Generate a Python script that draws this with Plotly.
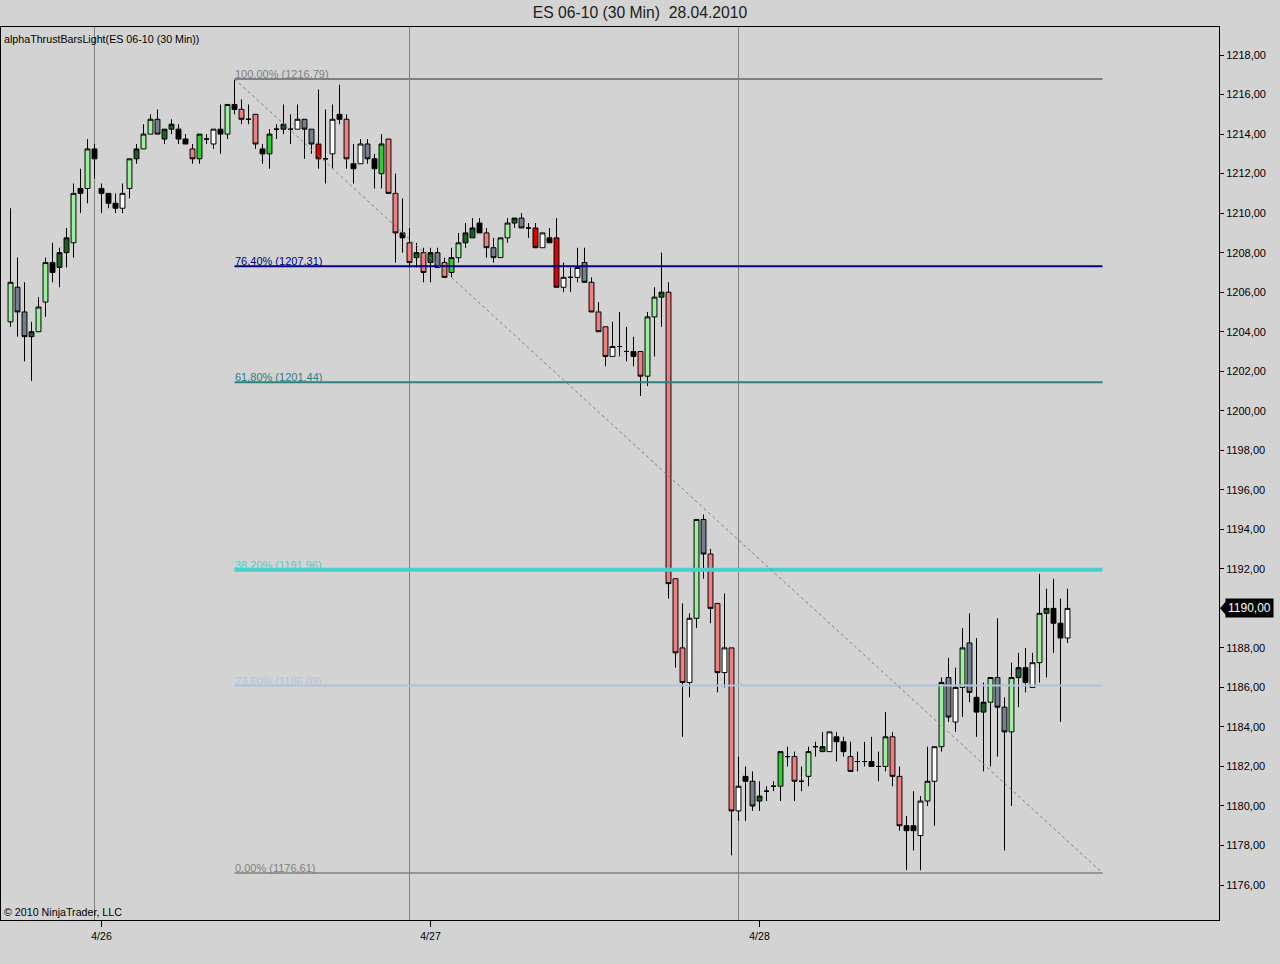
import plotly.graph_objects as go

# ---------------- data (ES 06-10, 30 min bars, 26.04 - 28.04.2010) ----------------
opens = [
    1204.50, 1206.25, 1205.00, 1203.75, 1204.00, 1205.50, 1207.50, 1207.25, 1208.00, 1208.50,
    1211.25, 1211.25, 1213.25, 1211.25, 1211.00, 1210.50, 1210.25, 1211.25, 1212.75, 1213.25,
    1214.00, 1214.75, 1213.75, 1214.25, 1214.25, 1213.75, 1213.25, 1212.75, 1213.75, 1213.50,
    1214.25, 1214.00, 1215.50, 1215.25, 1214.75, 1215.00, 1213.25, 1213.00, 1214.25, 1214.25,
    1214.25, 1214.25, 1214.75, 1214.25, 1213.50, 1212.75, 1213.00, 1215.00, 1214.75, 1212.50,
    1212.50, 1213.50, 1212.75, 1212.00, 1213.75, 1211.00, 1209.00, 1208.50, 1207.75, 1208.00,
    1207.50, 1208.00, 1207.50, 1207.00, 1207.75, 1208.50, 1208.75, 1209.50, 1209.00, 1208.25,
    1207.75, 1208.75, 1209.50, 1209.75, 1209.25, 1209.25, 1208.25, 1208.75, 1208.75, 1206.25,
    1206.75, 1206.75, 1207.50, 1206.50, 1205.00, 1204.25, 1202.75, 1203.25, 1203.00, 1203.00,
    1203.00, 1201.75, 1204.75, 1205.75, 1206.00, 1191.50, 1188.00, 1186.25, 1189.50, 1194.50,
    1192.75, 1190.25, 1186.75, 1188.00, 1179.75, 1181.50, 1181.25, 1180.25, 1180.75, 1181.00,
    1181.00, 1182.50, 1182.50, 1181.25, 1181.50, 1183.00, 1182.75, 1182.75, 1183.50, 1183.25,
    1182.50, 1182.25, 1182.25, 1182.25, 1182.00, 1182.00, 1183.50, 1181.50, 1179.00, 1179.00,
    1178.50, 1180.25, 1181.25, 1183.00, 1186.50, 1184.25, 1186.00, 1188.25, 1185.50, 1184.75,
    1185.25, 1186.50, 1185.00, 1183.75, 1186.50, 1187.00, 1186.00, 1187.25, 1189.75, 1190.00,
    1189.25, 1188.50,
]
highs = [
    1210.25, 1207.75, 1206.50, 1204.50, 1205.75, 1207.75, 1208.50, 1208.25, 1209.25, 1211.50,
    1212.25, 1213.75, 1213.50, 1211.50, 1211.00, 1211.00, 1211.50, 1212.75, 1213.50, 1214.50,
    1215.00, 1215.25, 1214.25, 1214.75, 1214.50, 1214.00, 1213.50, 1214.00, 1214.00, 1214.25,
    1215.50, 1215.50, 1216.75, 1215.75, 1215.50, 1215.00, 1213.50, 1214.25, 1214.50, 1215.50,
    1215.00, 1215.50, 1214.75, 1214.25, 1216.25, 1215.25, 1215.50, 1216.50, 1215.00, 1213.50,
    1213.75, 1213.75, 1213.00, 1214.00, 1213.75, 1212.00, 1210.75, 1209.25, 1208.50, 1208.25,
    1208.25, 1208.25, 1207.75, 1208.25, 1209.00, 1209.50, 1209.75, 1209.75, 1209.25, 1208.75,
    1208.75, 1209.75, 1209.75, 1210.00, 1209.50, 1209.50, 1209.00, 1209.25, 1209.75, 1207.50,
    1207.25, 1208.25, 1208.25, 1206.75, 1205.50, 1204.25, 1204.50, 1205.00, 1204.25, 1203.75,
    1203.00, 1205.00, 1206.25, 1208.00, 1206.50, 1191.50, 1190.25, 1189.75, 1194.50, 1194.75,
    1193.00, 1190.25, 1190.75, 1188.00, 1182.50, 1182.00, 1181.75, 1181.25, 1181.00, 1181.25,
    1182.75, 1183.00, 1182.75, 1182.00, 1183.00, 1183.25, 1183.75, 1183.75, 1183.75, 1183.50,
    1183.25, 1182.75, 1183.25, 1183.50, 1182.75, 1184.75, 1183.75, 1182.00, 1179.50, 1180.75,
    1180.50, 1183.00, 1183.00, 1186.50, 1187.50, 1187.00, 1189.00, 1189.75, 1188.50, 1186.25,
    1186.50, 1189.50, 1185.50, 1187.25, 1187.75, 1188.00, 1187.75, 1191.75, 1191.00, 1191.50,
    1190.50, 1191.00,
]
lows = [
    1204.25, 1203.75, 1202.50, 1201.50, 1204.00, 1204.75, 1206.50, 1206.25, 1207.25, 1207.75,
    1210.00, 1210.50, 1211.75, 1210.00, 1210.25, 1210.00, 1210.00, 1210.75, 1212.50, 1213.25,
    1214.00, 1214.00, 1213.50, 1214.00, 1213.50, 1213.50, 1212.50, 1212.50, 1213.50, 1213.25,
    1213.00, 1213.75, 1215.00, 1214.50, 1214.50, 1213.25, 1212.50, 1212.25, 1213.75, 1214.00,
    1213.50, 1214.25, 1212.75, 1213.00, 1212.25, 1211.50, 1212.25, 1214.50, 1212.25, 1211.50,
    1212.50, 1212.50, 1211.25, 1211.25, 1211.00, 1207.50, 1208.00, 1207.25, 1207.25, 1206.50,
    1206.50, 1207.25, 1206.75, 1206.75, 1207.50, 1208.25, 1208.75, 1209.00, 1207.75, 1207.50,
    1207.75, 1208.50, 1209.25, 1209.25, 1208.75, 1208.25, 1208.25, 1208.50, 1206.25, 1206.00,
    1206.00, 1206.50, 1206.50, 1205.00, 1204.00, 1202.25, 1202.75, 1202.75, 1202.50, 1202.25,
    1200.75, 1201.25, 1202.75, 1204.25, 1190.50, 1187.00, 1183.50, 1185.50, 1189.00, 1191.50,
    1189.25, 1185.75, 1186.00, 1177.50, 1179.25, 1179.25, 1179.75, 1179.75, 1180.25, 1180.75,
    1180.25, 1182.00, 1180.25, 1180.75, 1181.00, 1182.50, 1182.75, 1182.75, 1182.25, 1182.50,
    1181.75, 1181.75, 1182.00, 1182.00, 1181.25, 1181.75, 1181.00, 1178.75, 1176.75, 1177.75,
    1176.75, 1180.00, 1179.00, 1182.75, 1184.25, 1183.75, 1184.50, 1185.25, 1183.50, 1181.75,
    1182.00, 1182.50, 1177.75, 1180.00, 1185.00, 1185.75, 1186.00, 1186.25, 1186.50, 1187.75,
    1184.25, 1188.25,
]
closes = [
    1206.50, 1205.00, 1203.75, 1204.00, 1205.25, 1207.50, 1207.00, 1208.00, 1208.75, 1211.00,
    1211.00, 1213.25, 1212.75, 1211.00, 1210.50, 1210.25, 1211.00, 1212.75, 1213.25, 1214.00,
    1214.75, 1214.00, 1214.25, 1214.50, 1213.75, 1213.50, 1212.75, 1214.00, 1213.75, 1214.25,
    1214.00, 1215.50, 1215.25, 1214.75, 1214.75, 1213.50, 1213.00, 1214.00, 1214.25, 1214.50,
    1214.25, 1214.75, 1214.25, 1213.50, 1212.75, 1212.75, 1214.75, 1214.75, 1212.75, 1212.25,
    1213.50, 1212.75, 1212.25, 1213.50, 1211.00, 1209.00, 1208.75, 1207.50, 1208.00, 1207.00,
    1208.00, 1207.25, 1206.75, 1207.75, 1208.50, 1209.00, 1209.25, 1209.00, 1208.25, 1207.75,
    1208.75, 1209.50, 1209.75, 1209.25, 1209.25, 1208.25, 1209.00, 1208.50, 1206.25, 1206.75,
    1206.75, 1207.25, 1206.50, 1205.00, 1204.00, 1202.75, 1203.25, 1203.25, 1203.00, 1202.75,
    1201.75, 1204.75, 1205.75, 1206.00, 1191.25, 1187.75, 1186.25, 1189.50, 1194.50, 1192.75,
    1190.00, 1186.75, 1188.00, 1179.75, 1181.00, 1181.25, 1180.00, 1180.50, 1180.75, 1181.00,
    1182.75, 1182.50, 1181.25, 1181.25, 1182.75, 1183.00, 1183.00, 1183.75, 1183.25, 1182.75,
    1181.75, 1182.25, 1182.25, 1182.00, 1182.00, 1183.50, 1181.50, 1179.00, 1178.75, 1178.75,
    1180.25, 1181.25, 1183.00, 1186.25, 1184.50, 1186.00, 1188.00, 1185.75, 1184.75, 1185.25,
    1186.50, 1185.00, 1183.75, 1186.50, 1187.00, 1186.25, 1187.25, 1189.75, 1190.00, 1189.25,
    1188.50, 1190.00,
]
# alphaThrust bar state per bar
bar_states = [
    "LG", "GR", "GR", "DG", "LG", "LG", "BK", "DG", "DG", "LG",
    "BK", "LG", "BK", "BK", "BK", "BK", "WH", "LG", "DG", "LG",
    "LG", "GR", "DG", "DG", "BK", "BK", "SA", "BG", "DJ", "WH",
    "BK", "LG", "BK", "SA", "DJ", "SA", "BK", "BG", "DJ", "DG",
    "DJ", "WH", "GR", "GR", "RD", "DJ", "WH", "BK", "SA", "BK",
    "WH", "GR", "BK", "BG", "SA", "SA", "BK", "SA", "DG", "SA",
    "DG", "GR", "SA", "BG", "LG", "DG", "DG", "BK", "SA", "GR",
    "LG", "LG", "DG", "GR", "DJ", "RD", "WH", "BK", "RD", "WH",
    "DJ", "WH", "GR", "SA", "SA", "SA", "WH", "DJ", "DJ", "BK",
    "SA", "LG", "LG", "DG", "SA", "SA", "SA", "WH", "LG", "GR",
    "SA", "SA", "WH", "SA", "WH", "BK", "GR", "DG", "DJ", "DJ",
    "BG", "DJ", "SA", "DJ", "LG", "DJ", "DG", "WH", "BK", "BK",
    "SA", "DJ", "DJ", "BK", "DJ", "LG", "SA", "SA", "BK", "BK",
    "WH", "LG", "WH", "LG", "GR", "WH", "LG", "GR", "BK", "DG",
    "LG", "GR", "GR", "LG", "DG", "BK", "WH", "LG", "DG", "BK",
    "BK", "WH",
]
state_colors = {
    "LG": "#9cef9c", "DG": "#1f5f1f", "GR": "#708090", "BK": "#000000",
    "WH": "#ffffff", "SA": "#f08080", "BG": "#32cd32", "RD": "#e00000",
    "DJ": "#000000",
}

date_tick_index = [13, 60, 107]
date_tick_labels = ["4/26", "4/27", "4/28"]
session_break_index = [12, 57, 104]

fib_start_index = 32
fib_end_index = 156
fib_high = 1216.79
fib_low = 1176.61
fib_ratios = [1.0, 0.764, 0.618, 0.382, 0.236, 0.0]
fib_colors = ["#808080", "#000080", "#2e8080", "#48d1cc", "#b0c4de", "#808080"]
fib_widths = [2, 2, 2, 4, 2, 1.5]

y_ticks = list(range(1176, 1220, 2))

FONT = "Liberation Sans, Arial, sans-serif"

# ---------------- figure ----------------
fig = go.Figure()

for state, col in state_colors.items():
    idx = [i for i, s in enumerate(bar_states) if s == state]
    if not idx:
        continue
    fig.add_trace(go.Candlestick(
        x=idx,
        open=[opens[i] for i in idx],
        high=[highs[i] for i in idx],
        low=[lows[i] for i in idx],
        close=[closes[i] for i in idx],
        increasing=dict(line=dict(color="#000000", width=1), fillcolor=col),
        decreasing=dict(line=dict(color="#000000", width=1), fillcolor=col),
        whiskerwidth=0,
        hoverinfo="skip",
        showlegend=False,
    ))

shapes = []
for b in session_break_index:
    shapes.append(dict(type="line", xref="x", yref="paper", x0=b, x1=b, y0=0, y1=1,
                       line=dict(color="#808080", width=1), layer="below"))

annotations = []
rng = fib_high - fib_low
for r, c, w in zip(fib_ratios, fib_colors, fib_widths):
    lvl = fib_low + r * rng
    shapes.append(dict(type="line", xref="x", yref="y", x0=fib_start_index, x1=fib_end_index,
                       y0=lvl, y1=lvl, line=dict(color=c, width=w), layer="above"))
    label = ("%.2f%% (%.2f)" % (r * 100, lvl)).replace(".", ",")
    annotations.append(dict(x=fib_start_index, y=lvl, xref="x", yref="y", text=label,
                            showarrow=False, xanchor="left", yanchor="bottom",
                            xshift=-2, yshift=-3, font=dict(family=FONT, size=11, color=c)))

shapes.append(dict(type="line", xref="x", yref="y", x0=fib_start_index, x1=fib_end_index,
                   y0=fib_high, y1=fib_low, line=dict(color="#808080", width=1, dash="dot"),
                   layer="above"))

# last price marker
last = closes[-1]
px_w = 1218.0
py = (1219.42 - 1174.23) / 893.0
shapes.append(dict(type="path", xref="paper", yref="y",
                   path="M %f,%f L %f,%f L %f,%f Z" % (1 + 1 / px_w, last,
                                                       1 + 8 / px_w, last + 8 * py,
                                                       1 + 8 / px_w, last - 8 * py),
                   fillcolor="#000000", line=dict(width=0), layer="above"))
annotations.append(dict(x=1, y=last, xref="paper", yref="y", text=("%.2f" % last).replace(".", ","),
                        showarrow=False, xanchor="left", yanchor="middle", xshift=6,
                        bgcolor="#000000", borderpad=2,
                        font=dict(family=FONT, size=12, color="#ffffff")))

annotations.append(dict(x=0, y=1, xref="paper", yref="paper",
                        text="alphaThrustBarsLight(ES 06-10 (30 Min))", showarrow=False,
                        xanchor="left", yanchor="top", xshift=1, yshift=-4,
                        font=dict(family=FONT, size=10.7, color="#000000")))
annotations.append(dict(x=0, y=0, xref="paper", yref="paper",
                        text="© 2010 NinjaTrader, LLC", showarrow=False,
                        xanchor="left", yanchor="bottom", xshift=1, yshift=0,
                        font=dict(family=FONT, size=10.7, color="#000000")))

# the axis label under the last-price marker is hidden, as in the original
y_tick_shown = [v for v in y_ticks if abs(v - last) > 0.5]

fig.update_layout(
    width=1280, height=964,
    margin=dict(l=1, r=61, t=27, b=44),
    paper_bgcolor="#d3d3d3", plot_bgcolor="#d3d3d3",
    separators=",.",
    boxgap=0.3, boxgroupgap=0.0,
    title=dict(text="ES 06-10 (30 Min)\u00a0 28.04.2010", x=0.5, xref="container",
               y=1 - 12.5 / 964, yref="container", yanchor="middle", xanchor="center",
               font=dict(family=FONT, size=15.7, color="#202020")),
    shapes=shapes, annotations=annotations,
    showlegend=False,
    xaxis=dict(range=[-9.5 / 7, 1208.5 / 7], rangeslider=dict(visible=False),
               tickmode="array", tickvals=date_tick_index, ticktext=date_tick_labels,
               ticks="outside", ticklen=6, tickcolor="#000000", tickwidth=1,
               showline=True, linecolor="#000000", linewidth=1, mirror=True,
               showgrid=False, zeroline=False,
               tickfont=dict(family=FONT, size=10.5, color="#000000")),
    yaxis=dict(range=[1174.23, 1219.42], side="right",
               tickmode="array", tickvals=y_tick_shown, tickformat=".2f",
               ticks="outside", ticklen=4, tickcolor="#000000", tickwidth=1,
               showline=True, linecolor="#000000", linewidth=1, mirror=True,
               showgrid=False, zeroline=False,
               tickfont=dict(family=FONT, size=11, color="#000000")),
)

fig.write_html("out.html", config={"displayModeBar": False},
               post_script="document.body.style.margin='0';document.body.style.background='#d3d3d3';")
